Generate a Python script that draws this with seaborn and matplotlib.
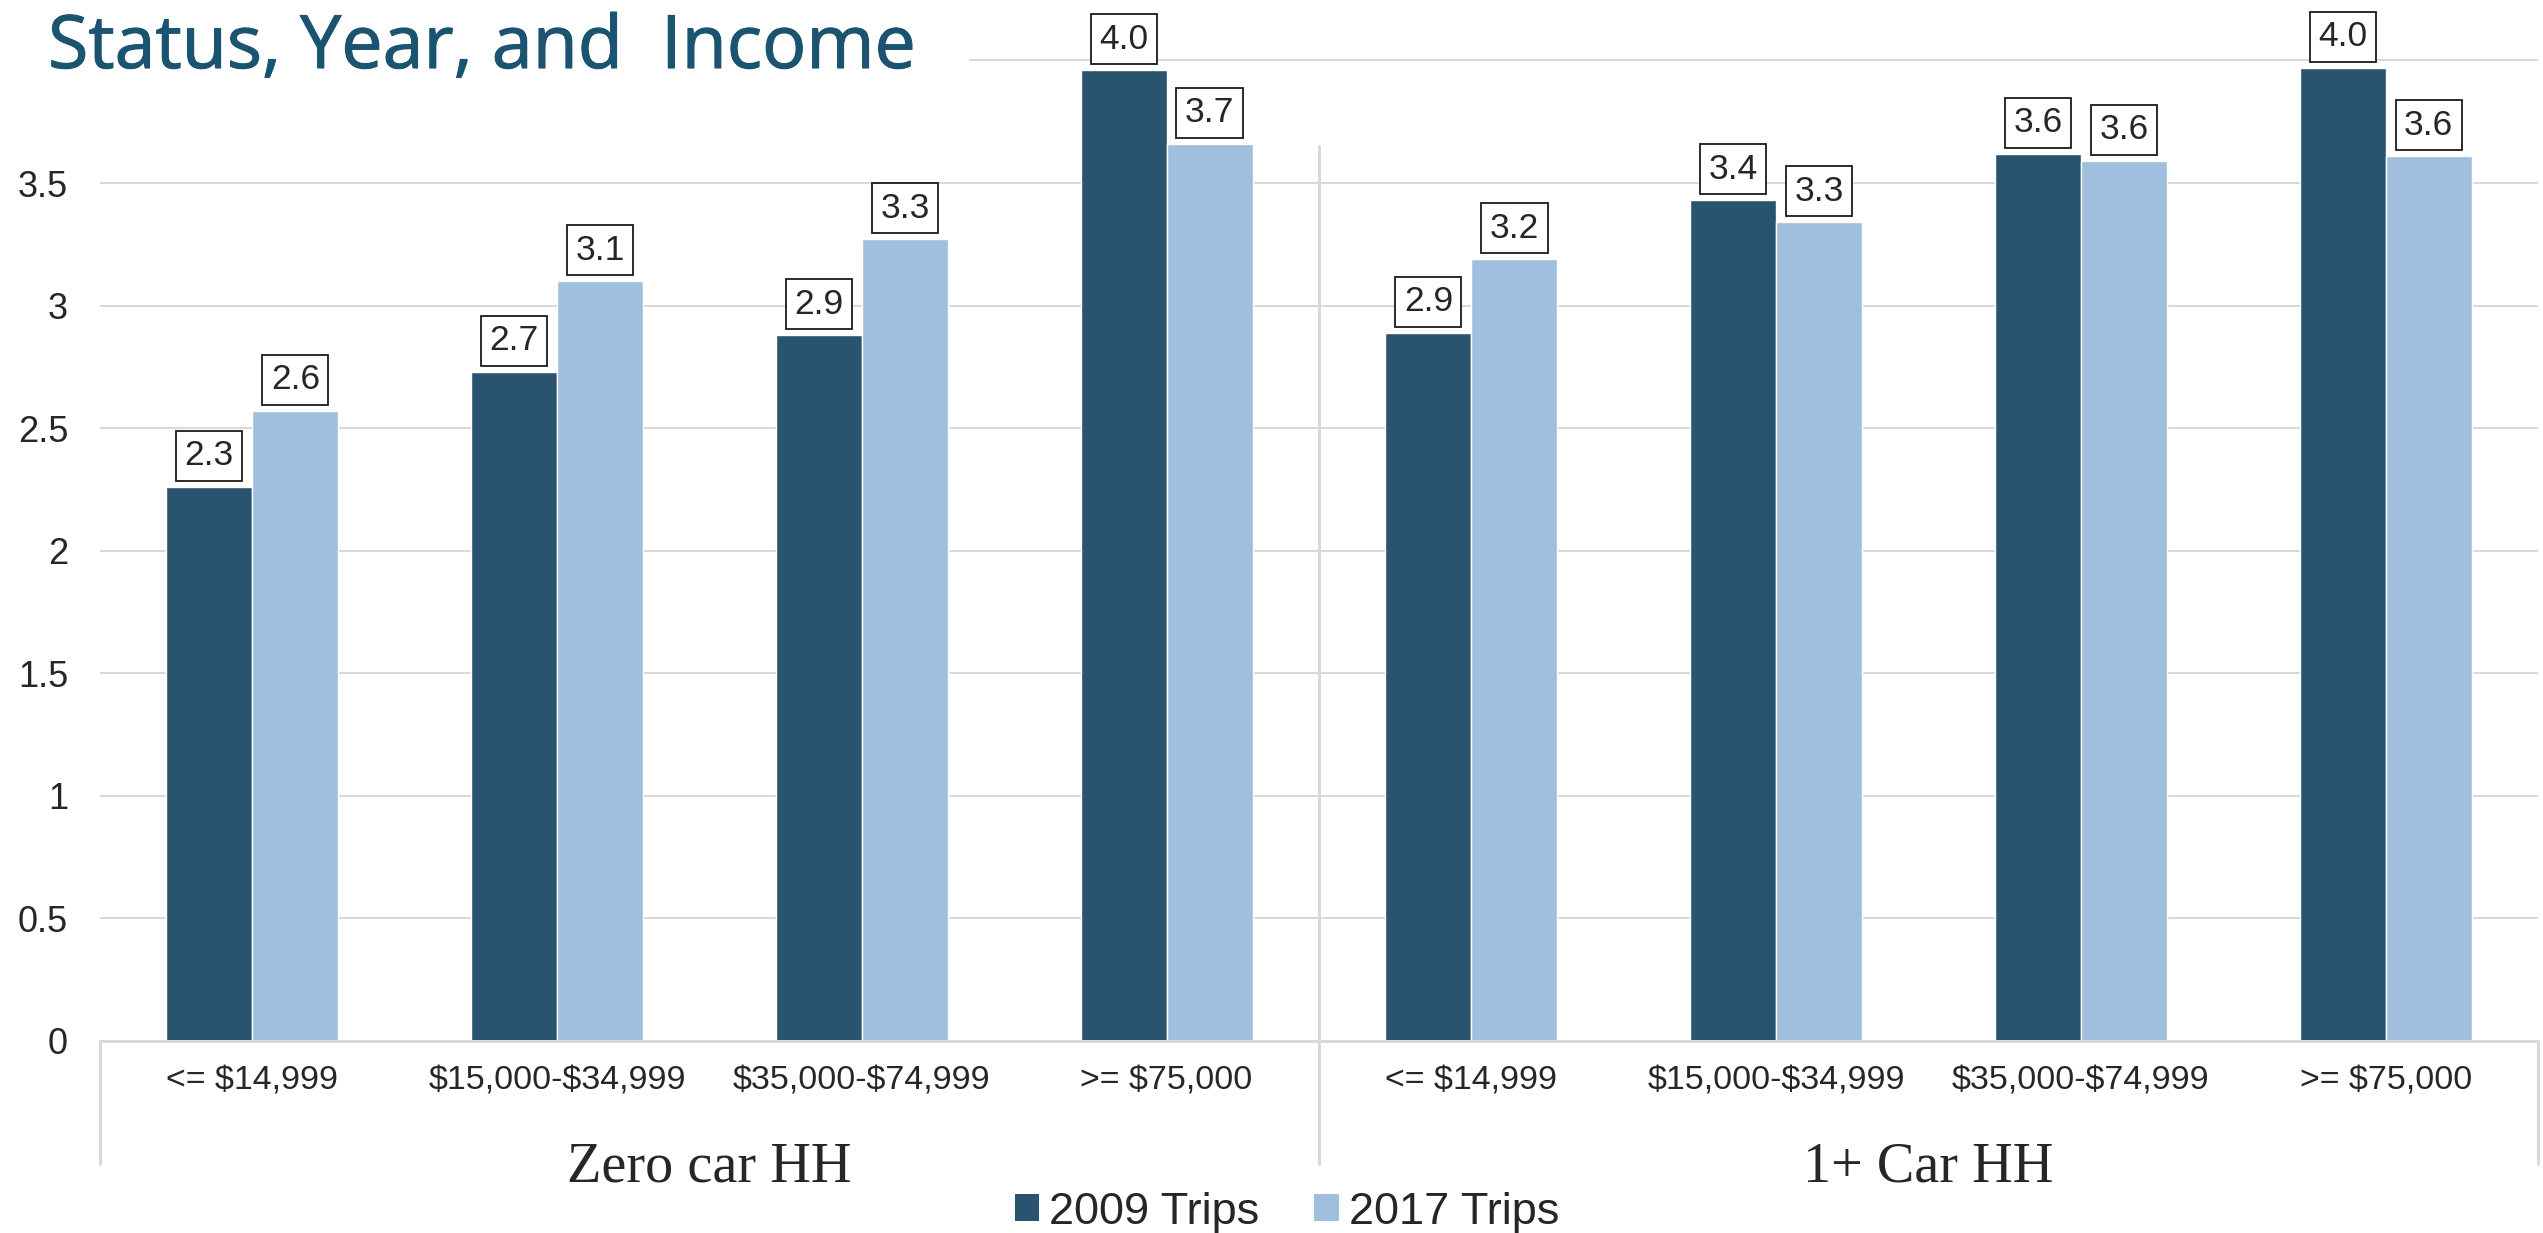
import matplotlib
matplotlib.use("Agg")
import matplotlib.pyplot as plt
import matplotlib.patheffects as pe
from matplotlib.patches import Rectangle, Patch
import seaborn as sns
import pandas as pd

# ---- data -------------------------------------------------------------
groups = ["Zero car HH", "1+ Car HH"]
income_bands = ["<= $14,999", "$15,000-$34,999", "$35,000-$74,999", ">= $75,000"]
years = ["2009 Trips", "2017 Trips"]

zero_car_2009 = [2.26, 2.73, 2.88, 3.96]
zero_car_2017 = [2.57, 3.10, 3.27, 3.66]
car_2009 = [2.89, 3.43, 3.62, 3.97]
car_2017 = [3.19, 3.34, 3.59, 3.61]

y_ticks = [0, 0.5, 1, 1.5, 2, 2.5, 3, 3.5]
y_tick_labels = ["0", "0.5", "1", "1.5", "2", "2.5", "3", "3.5"]
grid_levels = [0.5, 1, 1.5, 2, 2.5, 3, 3.5, 4]

title = "Status, Year, and  Income"

# ---- tidy table -------------------------------------------------------
rows = []
slots = []
for g, (v09, v17) in zip(groups, [(zero_car_2009, zero_car_2017), (car_2009, car_2017)]):
    for band, a, b in zip(income_bands, v09, v17):
        slot = f"{g} | {band}"
        slots.append(slot)
        rows.append({"slot": slot, "year": years[0], "trips": a})
        rows.append({"slot": slot, "year": years[1], "trips": b})
df = pd.DataFrame(rows)

# ---- style ------------------------------------------------------------
sns.set_theme(style="white")
plt.rcParams["font.family"] = ["Liberation Sans", "DejaVu Sans"]
plt.rcParams["text.parse_math"] = False  # dollar signs are literal

DARK = "#2A5370"
LIGHT = "#A0BFDF"
GRID = "#D9D9D9"
TEXT = "#262626"
TITLE_C = "#1B5470"

W, H, DPI = 2543, 1233, 100
fig = plt.figure(figsize=(W / DPI, H / DPI), dpi=DPI)
px = 72.0 / DPI  # points per pixel

ax_left, ax_right, ax_bottom = 100 / W, 2538 / W, 1 - 1041 / H
ax = fig.add_axes([ax_left, ax_bottom, ax_right - ax_left, 1 - ax_bottom])

sns.barplot(data=df, x="slot", y="trips", hue="year", order=slots,
            hue_order=years, palette=[DARK, LIGHT], width=0.565,
            saturation=1, errorbar=None, legend=False, ax=ax, zorder=3)

ax.set_xlim(-0.5, 7.5)
ax.set_ylim(0, 4.2466)
for s in ax.spines.values():
    s.set_visible(False)

# gridlines and baseline
for yv in grid_levels:
    ax.axhline(yv, color=GRID, lw=2 * px, zorder=1)
ax.axhline(0, color=GRID, lw=3 * px, zorder=4, clip_on=False)

ax.set_yticks(y_ticks)
ax.set_yticklabels(y_tick_labels)
ax.tick_params(axis="y", length=0, pad=23, labelsize=26, labelcolor=TEXT)

ax.set_xticks(range(len(slots)))
ax.set_xticklabels(income_bands * 2)
ax.tick_params(axis="x", length=0, pad=18, labelsize=24.5, labelcolor=TEXT)
ax.set_xlabel("")
ax.set_ylabel("")

# group separators of the two-level category axis
lower = -0.503
ax.plot([-0.5, -0.5], [0, lower], color=GRID, lw=3 * px, clip_on=False, zorder=1)
ax.plot([3.5, 3.5], [3.651, lower], color=GRID, lw=3 * px, clip_on=False, zorder=1)
ax.plot([7.5, 7.5], [0, lower], color=GRID, lw=3 * px, clip_on=False, zorder=1)

# group names
for i, g in enumerate(groups):
    ax.text(1.5 + 4 * i, -0.518, g, ha="center", va="center",
            family=["Liberation Serif", "DejaVu Serif"], fontsize=40.5,
            color=TEXT, clip_on=False)

# value labels in boxes
for cont in ax.containers:
    for bar in cont:
        h = bar.get_height()
        ax.annotate(f"{h:.1f}", xy=(bar.get_x() + bar.get_width() / 2, h),
                    xytext=(0, 31 * px), textcoords="offset points",
                    ha="center", va="center", fontsize=25.5, color=TEXT,
                    zorder=6,
                    bbox=dict(boxstyle="square,pad=0.24", fc="white",
                              ec="#1A1A1A", lw=1.3))

# legend
handles = [Patch(facecolor=DARK, edgecolor="none"),
           Patch(facecolor=LIGHT, edgecolor="none")]
fig.legend(handles, years, loc="center", bbox_to_anchor=(0.506, 0.017),
           ncol=2, frameon=False, fontsize=32.5, handlelength=0.55,
           handleheight=0.55, handletextpad=0.22, columnspacing=1.2,
           labelcolor=TEXT, borderaxespad=0, borderpad=0)

# title band
fig.add_artist(Rectangle((0, 1 - 120 / H), 969 / W, 120 / H,
                         transform=fig.transFigure, facecolor="white",
                         edgecolor="none", zorder=10))
fig.text(48 / W, 1 - 68 / H, title, ha="left", va="baseline",
         family=["Open Sans", "DejaVu Sans"], fontsize=53, color=TITLE_C,
         zorder=11,
         path_effects=[pe.withStroke(linewidth=0.8, foreground=TITLE_C)])

fig.savefig("out.png", dpi=DPI, facecolor="white")
